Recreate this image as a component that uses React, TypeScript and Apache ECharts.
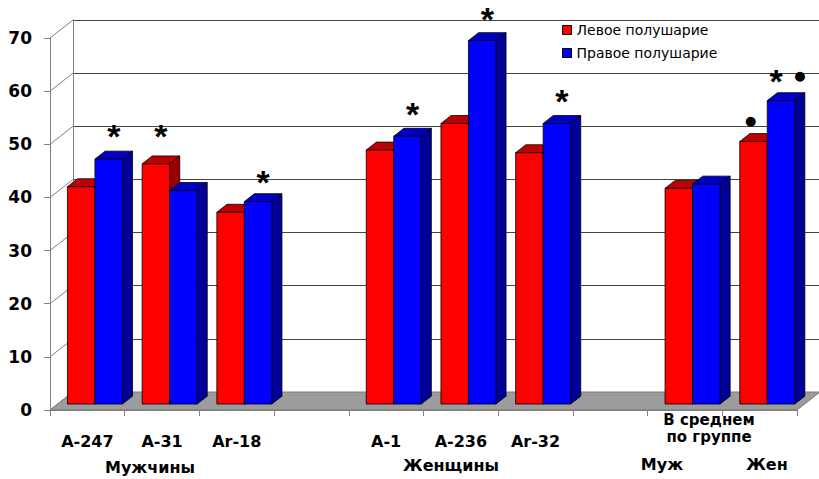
import { useEffect, useRef } from 'react';
import * as echarts from 'echarts';

// Slots along the category axis (empty slots separate the groups)
const categories = ['A-247', 'A-31', 'Ar-18', '', 'A-1', 'A-236', 'Ar-32', '', 'Муж', 'Жен'];
const tickLabels = ['A-247', 'A-31', 'Ar-18', '', 'A-1', 'A-236', 'Ar-32', '', '', ''];
const seriesNames = ['Левое полушарие', 'Правое полушарие'];
const leftHemisphere = [40.9, 45.2, 36.1, null, 47.8, 52.8, 47.3, null, 40.6, 49.4];
const rightHemisphere = [46.1, 40.2, 38.1, null, 50.4, 68.4, 52.8, null, 41.4, 57.1];
const valueTicks = [0, 10, 20, 30, 40, 50, 60, 70];
const groupLabels = ['Мужчины', 'Женщины', 'Муж', 'Жен'];
const averageLabel = 'В среднем\nпо группе';

// Significance marks: category, hemisphere (0 = left, 1 = right), glyph, value-axis level
const significance = [
  { category: 'A-247', side: 1, mark: '*', level: 52.3 },
  { category: 'A-31', side: 0, mark: '*', level: 52.3 },
  { category: 'Ar-18', side: 1, mark: '*', level: 43.7 },
  { category: 'A-1', side: 1, mark: '*', level: 56.5 },
  { category: 'A-236', side: 1, mark: '*', level: 74.3 },
  { category: 'Ar-32', side: 1, mark: '*', level: 58.9 },
  { category: 'Жен', side: 1, mark: '*', level: 62.7 },
  { category: 'Жен', side: 0, mark: '●', level: 54.4 },
  { category: 'Жен', side: 1, mark: '●', level: 63.0 },
];
// horizontal nudges (px) so that neighbouring marks do not collide
const markNudge = [0, 0, 0, 0, 0, 0, -10, -8, 14];

// 3D geometry (px)
const WALL_DX = 23;
const WALL_DY = -18;
const BAR_FRONT = 0.33; // depth fraction of the bar front face
const BAR_BACK = 0.77; // depth fraction of the bar back face
const BAR_RATIO = 0.368; // bar width relative to a category band

const FRONT_DX = WALL_DX * BAR_FRONT;
const FRONT_DY = WALL_DY * BAR_FRONT;
const DEPTH_DX = WALL_DX * (BAR_BACK - BAR_FRONT);
const DEPTH_DY = WALL_DY * (BAR_BACK - BAR_FRONT);

const palettes = [
  { front: '#ff0000', top: '#c00000', side: '#9c0000' },
  { front: '#0000ff', top: '#0000c4', side: '#00009a' },
];

const LABEL_FONT = '"DejaVu Sans", sans-serif';
const MARK_FONT = '"Liberation Sans", Arial, sans-serif';

function barRenderer(side: number) {
  const pal = palettes[side];
  return (_params: any, api: any) => {
    const idx = api.value(0);
    const v = api.value(1);
    const base = api.coord([idx, 0]);
    const top = api.coord([idx, v]);
    const band = api.size([1, 0])[0];
    const w = band * BAR_RATIO;
    const x0 = base[0] + (side === 0 ? -w : 0) + FRONT_DX;
    const yb = base[1] + FRONT_DY;
    const yt = top[1] + FRONT_DY;
    const dx = DEPTH_DX;
    const dy = DEPTH_DY;
    const edge = { stroke: '#000', lineWidth: 0.8 };
    return {
      type: 'group',
      children: [
        {
          type: 'polygon',
          shape: { points: [[x0, yt], [x0 + w, yt], [x0 + w + dx, yt + dy], [x0 + dx, yt + dy]] },
          style: { fill: pal.top, ...edge },
        },
        {
          type: 'polygon',
          shape: { points: [[x0 + w, yt], [x0 + w + dx, yt + dy], [x0 + w + dx, yb + dy], [x0 + w, yb]] },
          style: { fill: pal.side, ...edge },
        },
        {
          type: 'rect',
          shape: { x: x0, y: yt, width: w, height: yb - yt },
          style: { fill: pal.front, ...edge },
        },
      ],
    };
  };
}

function seriesData(values: (number | null)[]) {
  return values
    .map((v, i) => (v == null ? null : [i, v]))
    .filter((d) => d !== null) as number[][];
}

export default function App() {
  const ref = useRef<HTMLDivElement>(null);

  useEffect(() => {
    if (!ref.current) return;
    const chart = echarts.init(ref.current, null, { renderer: 'svg' });

    const floorRender = (_p: any, api: any) => {
      const band = api.size([1, 0])[0];
      const l = api.coord([0, 0]);
      const r = api.coord([categories.length - 1, 0]);
      const xl = l[0] - band / 2;
      const xr = r[0] + band / 2;
      const y = l[1];
      return {
        type: 'polygon',
        shape: { points: [[xl, y], [xr, y], [xr + WALL_DX, y + WALL_DY], [xl + WALL_DX, y + WALL_DY]] },
        style: { fill: '#9c9c9c', stroke: '#7a7a7a', lineWidth: 1 },
      };
    };

    const sideWallRender = (_p: any, api: any) => {
      const band = api.size([1, 0])[0];
      const p = api.coord([0, api.value(1)]);
      const x = p[0] - band / 2;
      return {
        type: 'line',
        shape: { x1: x, y1: p[1], x2: x + WALL_DX, y2: p[1] + WALL_DY },
        style: { stroke: '#808080', lineWidth: 1 },
      };
    };

    const markRender = (_p: any, api: any) => {
      const k = api.value(2);
      const a = significance[k];
      const idx = api.value(0);
      const p = api.coord([idx, api.value(1)]);
      const w = api.size([1, 0])[0] * BAR_RATIO;
      const x = p[0] + (a.side === 0 ? -w / 2 : w / 2) + FRONT_DX + DEPTH_DX / 2 + markNudge[k];
      const isStar = a.mark === '*';
      return {
        type: 'text',
        x,
        y: p[1] + (isStar ? 4 : 0),
        style: {
          text: a.mark,
          fill: '#000',
          fontFamily: isStar ? MARK_FONT : LABEL_FONT,
          fontWeight: 'bold',
          fontSize: isStar ? 34 : 13,
          align: 'center',
          verticalAlign: 'middle',
        },
      };
    };

    const groupText = (text: string, x: number, y: number, size = 16, lineHeight = 16) => ({
      type: 'text',
      x,
      y,
      style: {
        text,
        fill: '#000',
        fontFamily: LABEL_FONT,
        fontWeight: 'bold',
        fontSize: size,
        align: 'center',
        verticalAlign: 'middle',
        lineHeight,
      },
    });

    chart.setOption({
      animation: false,
      backgroundColor: '#fff',
      legend: {
        orient: 'vertical',
        left: 562,
        top: 23,
        itemWidth: 9,
        itemHeight: 9,
        itemGap: 9,
        padding: 0,
        selectedMode: false,
        icon: 'rect',
        textStyle: { fontFamily: LABEL_FONT, fontSize: 14, color: '#000', lineHeight: 14 },
        data: seriesNames.map((name, i) => ({
          name,
          itemStyle: { color: palettes[i].front, borderColor: '#000', borderWidth: 1 },
        })),
      },
      grid: [
        { left: 50, top: 38, width: 747, height: 372 },
        { left: 73, top: 20, width: 747, height: 372 },
      ],
      xAxis: [
        {
          type: 'category',
          gridIndex: 0,
          data: categories,
          boundaryGap: true,
          axisLine: { show: true, lineStyle: { color: '#808080', width: 1 } },
          axisTick: { show: true, length: 6, interval: 0, lineStyle: { color: '#808080' } },
          axisLabel: {
            interval: 0,
            margin: 23,
            color: '#000',
            fontFamily: LABEL_FONT,
            fontWeight: 'bold',
            fontSize: 16,
            formatter: (_v: string, i: number) => tickLabels[i],
          },
          splitLine: { show: false },
        },
        { type: 'value', gridIndex: 1, min: 0, max: 1, show: false },
      ],
      yAxis: [
        {
          type: 'value',
          gridIndex: 0,
          min: 0,
          max: 70,
          interval: 10,
          axisLine: { show: true, lineStyle: { color: '#808080', width: 1 } },
          axisTick: { show: true, length: 6, lineStyle: { color: '#808080' } },
          axisLabel: {
            margin: 18,
            color: '#000',
            fontFamily: LABEL_FONT,
            fontWeight: 'bold',
            fontSize: 17,
          },
          splitLine: { show: false },
        },
        {
          type: 'value',
          gridIndex: 1,
          min: 0,
          max: 70,
          interval: 10,
          axisLine: { show: true, lineStyle: { color: '#808080', width: 1 } },
          axisTick: { show: false },
          axisLabel: { show: false },
          splitLine: { show: true, lineStyle: { color: '#444', width: 1 } },
        },
      ],
      series: [
        {
          type: 'custom',
          name: 'floor',
          xAxisIndex: 0,
          yAxisIndex: 0,
          z: 1,
          silent: true,
          data: [[0, 0]],
          renderItem: floorRender,
        },
        {
          type: 'custom',
          name: 'wall',
          xAxisIndex: 0,
          yAxisIndex: 0,
          z: 1,
          silent: true,
          data: valueTicks.map((t) => [0, t]),
          renderItem: sideWallRender,
        },
        {
          type: 'custom',
          name: seriesNames[0],
          xAxisIndex: 0,
          yAxisIndex: 0,
          z: 3,
          itemStyle: { color: palettes[0].front },
          data: seriesData(leftHemisphere),
          renderItem: barRenderer(0),
        },
        {
          type: 'custom',
          name: seriesNames[1],
          xAxisIndex: 0,
          yAxisIndex: 0,
          z: 3,
          itemStyle: { color: palettes[1].front },
          data: seriesData(rightHemisphere),
          renderItem: barRenderer(1),
        },
        {
          type: 'custom',
          name: 'marks',
          xAxisIndex: 0,
          yAxisIndex: 0,
          z: 4,
          silent: true,
          clip: false,
          data: significance.map((a, k) => [categories.indexOf(a.category), a.level, k]),
          renderItem: markRender,
        },
      ],
      graphic: [
        groupText(groupLabels[0], 150, 467),
        groupText(groupLabels[1], 451, 465),
        groupText(groupLabels[2], 662, 464),
        groupText(groupLabels[3], 767, 464),
        groupText(averageLabel, 709, 428, 15, 17),
      ],
    });

    return () => chart.dispose();
  }, []);

  return (
    <div
      ref={ref}
      style={{ position: 'absolute', left: 0, top: 0, width: 819, height: 479 }}
    />
  );
}
